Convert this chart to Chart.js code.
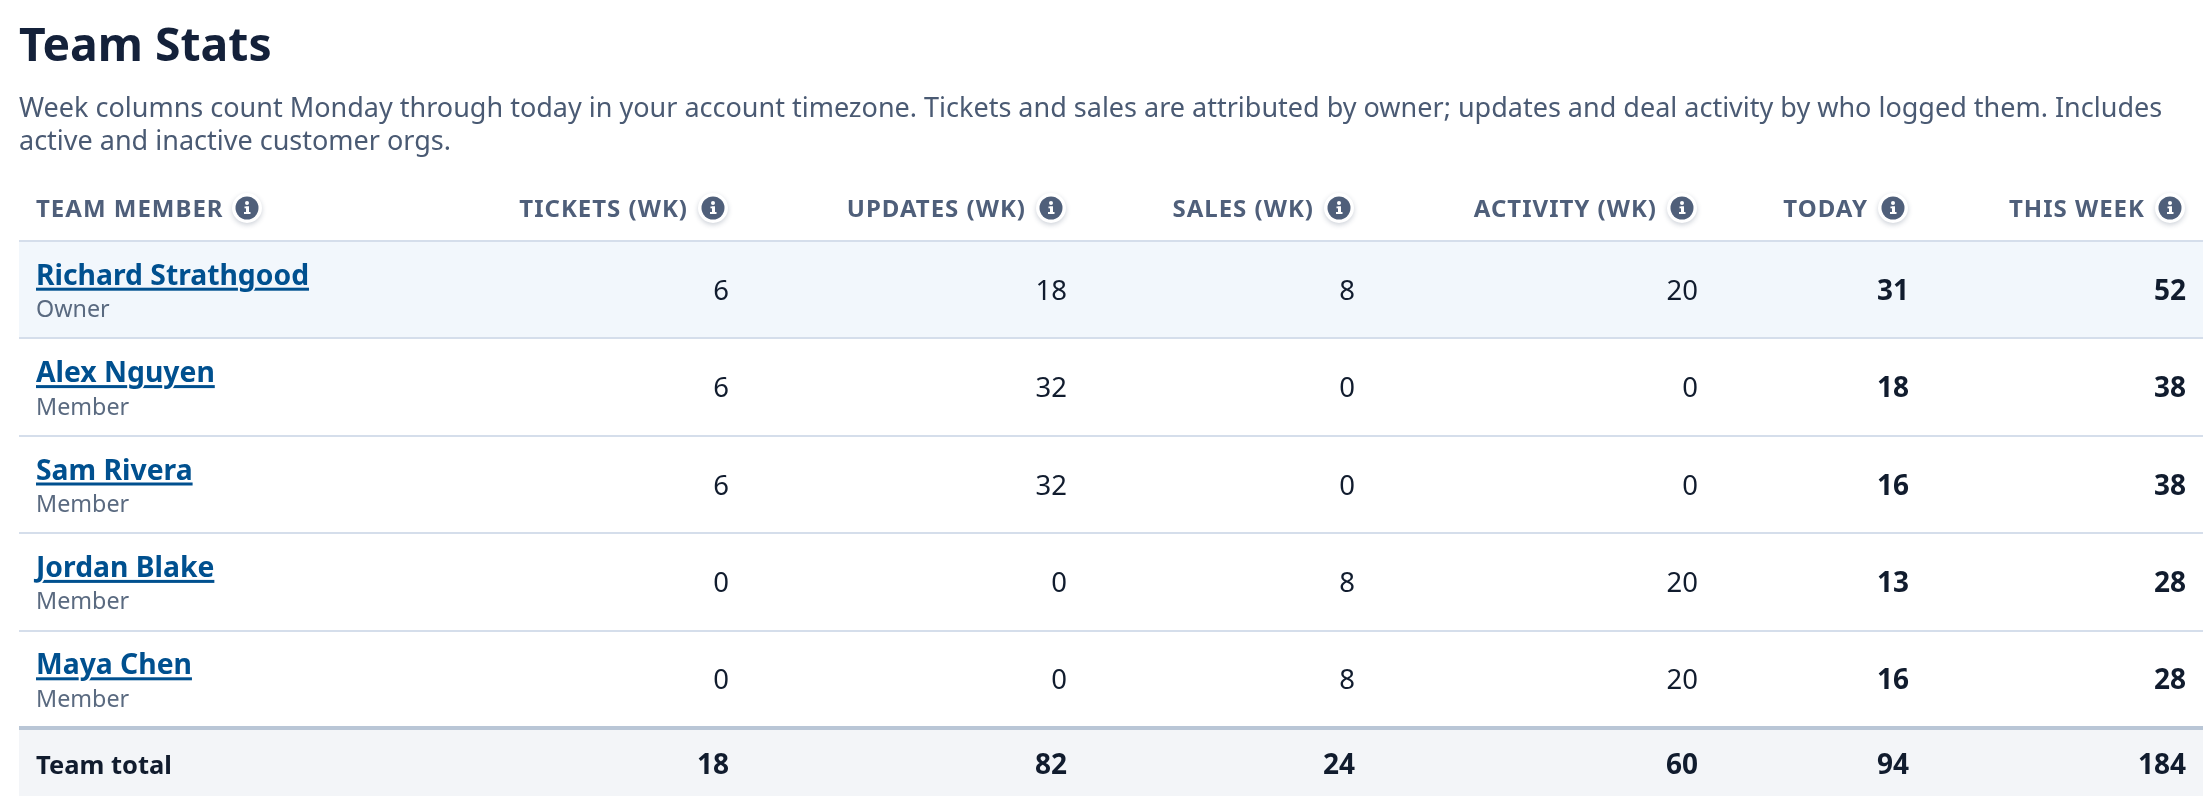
<!DOCTYPE html>
<html>
<head>
<meta charset="utf-8">
<title>Team Stats</title>
<style>
  html, body { margin: 0; padding: 0; background: #fff; overflow: hidden; }
  canvas { display: block; }
</style>
<script src="https://cdn.jsdelivr.net/npm/chart.js@4"></script>
</head>
<body>
<canvas id="teamStats" width="2209" height="812"></canvas>
<script>
// Table data
var title = "Team Stats";
var subtitle = [
    "Week columns count Monday through today in your account timezone. Tickets and sales are attributed by owner; updates and deal activity by who logged them. Includes",
    "active and inactive customer orgs."
];
var columns = ["TICKETS (WK)", "UPDATES (WK)", "SALES (WK)", "ACTIVITY (WK)", "TODAY", "THIS WEEK"];
var members = ["Richard Strathgood", "Alex Nguyen", "Sam Rivera", "Jordan Blake", "Maya Chen"];
var roles = ["Owner", "Member", "Member", "Member", "Member"];
var tickets = [6, 6, 6, 0, 0];
var updates = [18, 32, 32, 0, 0];
var sales = [8, 0, 0, 8, 8];
var activity = [20, 0, 0, 20, 20];
var today = [31, 18, 16, 13, 16];
var thisWeek = [52, 38, 38, 28, 28];
var totalLabel = "Team total";
var totals = [18, 82, 24, 60, 94, 184];
var series = [tickets, updates, sales, activity, today, thisWeek];

// Layout
var fontName = '"Noto Sans"';
var tableLeft = 19, tableRight = 2203, rowsTop = 241, rowsBottom = 728, totalBottom = 796;
var colRight = [729, 1067, 1355, 1698, 1909, 2186];
var nameX = 36;

function drawText(ctx, str, x, y, font, color, align, spacing) {
    ctx.font = font;
    ctx.fillStyle = color;
    ctx.textAlign = align || "left";
    ctx.textBaseline = "alphabetic";
    ctx.letterSpacing = (spacing || 0) + "px";
    ctx.fillText(str, x, y);
    ctx.letterSpacing = "0px";
}

// link style name, underline skips the descenders
function drawLink(ctx, str, x, y, font, color, bg) {
    ctx.font = font;
    ctx.textAlign = "left";
    ctx.textBaseline = "alphabetic";
    ctx.fillStyle = color;
    ctx.fillRect(x, y + 3, ctx.measureText(str).width, 3);
    ctx.strokeStyle = bg;
    ctx.lineWidth = 4;
    ctx.lineJoin = "round";
    ctx.strokeText(str, x, y);
    ctx.fillText(str, x, y);
}

function drawInfo(ctx, cx, cy) {
    ctx.save();
    ctx.shadowColor = "rgba(30,50,80,0.22)";
    ctx.shadowBlur = 5;
    ctx.shadowOffsetY = 2;
    ctx.fillStyle = "#ffffff";
    ctx.beginPath();
    ctx.arc(cx, cy, 15, 0, Math.PI * 2);
    ctx.fill();
    ctx.restore();
    ctx.fillStyle = "#4f5f7a";
    ctx.beginPath();
    ctx.arc(cx, cy, 11.5, 0, Math.PI * 2);
    ctx.fill();
    ctx.fillStyle = "#ffffff";
    ctx.beginPath();
    ctx.arc(cx, cy - 5, 2, 0, Math.PI * 2);
    ctx.fill();
    ctx.fillRect(cx - 2.5, cy - 1.5, 4.5, 1.8);
    ctx.fillRect(cx - 1, cy - 1.5, 3, 7);
    ctx.fillRect(cx - 3, cy + 4, 6.5, 2);
}

var tablePlugin = {
    id: "tablePlugin",
    beforeDraw: function (chart) {
        var ctx = chart.ctx, y = chart.scales.y;
        var band = y.getPixelForValue(1) - y.getPixelForValue(0);
        // owner row and total row backgrounds
        ctx.fillStyle = "#f2f7fc";
        ctx.fillRect(tableLeft, y.getPixelForValue(0) - band / 2, tableRight - tableLeft, band);
        ctx.fillStyle = "#f3f5f8";
        ctx.fillRect(tableLeft, rowsBottom, tableRight - tableLeft, totalBottom - rowsBottom);
    },
    afterDraw: function (chart) {
        var ctx = chart.ctx, y = chart.scales.y;

        drawText(ctx, title, 19, 61, "bold 46.3px " + fontName, "#14213a");
        subtitle.forEach(function (line, i) {
            drawText(ctx, line, 19, 116.5 + i * 33, "27px " + fontName, "#4a5a73");
        });

        // header row
        var headFont = "bold 24px " + fontName;
        drawText(ctx, "TEAM MEMBER", nameX, 217, headFont, "#4f5f7a", "left", 1);
        drawInfo(ctx, 247, 208);
        columns.forEach(function (name, i) {
            drawInfo(ctx, colRight[i] - 16, 208);
            drawText(ctx, name, colRight[i] - 41, 217, headFont, "#4f5f7a", "right", 1);
        });

        // member rows
        members.forEach(function (name, r) {
            var cy = y.getPixelForValue(r);
            drawLink(ctx, name, nameX, cy - 5, "bold 28.3px " + fontName, "#00508f", r === 0 ? "#f2f7fc" : "#ffffff");
            drawText(ctx, roles[r], nameX, cy + 27.5, "23.3px " + fontName, "#5a6a80");
            series.forEach(function (vals, c) {
                var bold = c >= 4;
                drawText(ctx, String(vals[r]), colRight[c], cy + 10,
                    (bold ? "bold " : "") + (bold ? "28px " : "27.5px ") + fontName, "#111c2e", "right");
            });
        });

        // total row
        drawText(ctx, totalLabel, nameX, 774, "bold 25.5px " + fontName, "#111c2e");
        totals.forEach(function (v, c) {
            drawText(ctx, String(v), colRight[c], 774, "bold 28px " + fontName, "#111c2e", "right");
        });
    }
};

new Chart(document.getElementById("teamStats"), {
    type: "line",
    data: {
        labels: members,
        datasets: series.map(function (vals, i) {
            return {
                label: columns[i],
                data: vals.map(function (v, r) { return { x: columns[i], y: members[r] }; }),
                showLine: false,
                pointRadius: 0
            };
        })
    },
    plugins: [tablePlugin],
    options: {
        responsive: false,
        devicePixelRatio: 1,
        animation: false,
        layout: { padding: { left: tableLeft, right: 2209 - tableRight, top: rowsTop, bottom: 812 - rowsBottom } },
        plugins: { legend: { display: false }, tooltip: { enabled: false } },
        scales: {
            x: {
                type: "category",
                labels: columns,
                display: false
            },
            y: {
                type: "category",
                labels: members,
                offset: true,
                border: { display: false },
                ticks: { display: false },
                grid: {
                    offset: true,
                    drawTicks: false,
                    // last line has no tick of its own, so index is undefined there
                    color: function (c) { return c.index === undefined ? "#b9c6d6" : "#d5deeb"; },
                    lineWidth: function (c) { return c.index === undefined ? 4 : 2; }
                }
            }
        }
    }
});
</script>
</body>
</html>
